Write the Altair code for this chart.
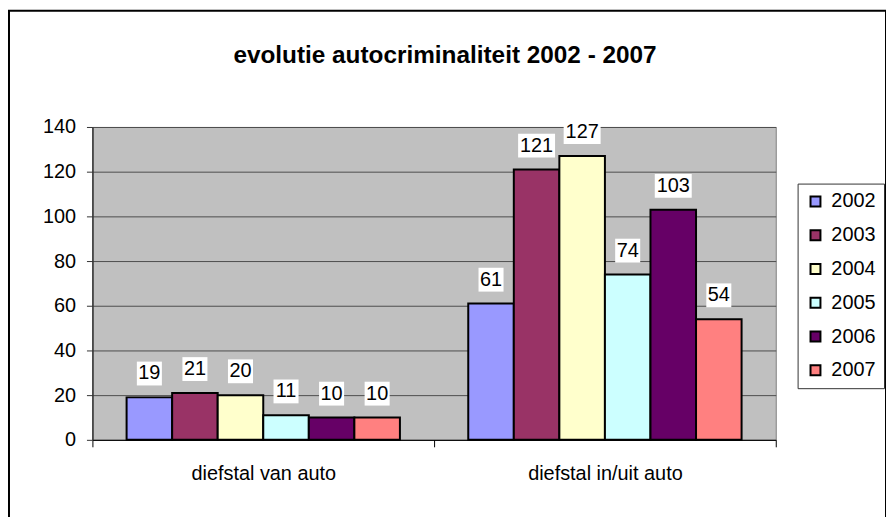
import altair as alt
import pandas as pd

categories = ["diefstal van auto", "diefstal in/uit auto"]
years = ["2002", "2003", "2004", "2005", "2006", "2007"]
van_auto = [19, 21, 20, 11, 10, 10]
in_uit_auto = [61, 121, 127, 74, 103, 54]
colors = ["#9999FF", "#993366", "#FFFFCC", "#CCFFFF", "#660066", "#FF8080"]
y_ticks = [0, 20, 40, 60, 80, 100, 120, 140]
title_text = "evolutie autocriminaliteit 2002 - 2007"

rows = []
for cat, vals in zip(categories, [van_auto, in_uit_auto]):
    for yr, v in zip(years, vals):
        rows.append({"category": cat, "year": yr, "value": v})
df = pd.DataFrame(rows)

FONT = "Liberation Sans"
FS = 20
W, H = 688, 315
PL, PT, PR, PB = 85, 118, 111, 90

x_enc = alt.X(
    "category:N",
    sort=categories,
    title=None,
    scale=alt.Scale(paddingInner=0, paddingOuter=0),
    axis=alt.Axis(
        tickBand="extent",
        labelAngle=0,
        labelFont=FONT,
        labelFontSize=FS,
        labelColor="black",
        labelPadding=17,
        tickSize=7,
        tickColor="black",
        domainColor="black",
        domainWidth=1,
        grid=False,
    ),
)
xo_enc = alt.XOffset(
    "year:N", sort=years, scale=alt.Scale(paddingInner=0, paddingOuter=0.75)
)
y_enc = alt.Y(
    "value:Q",
    title=None,
    scale=alt.Scale(domain=[0, 140], nice=False),
    axis=alt.Axis(
        values=y_ticks,
        labelFont=FONT,
        labelFontSize=FS,
        labelColor="black",
        labelPadding=11,
        tickSize=6,
        tickColor="#333333",
        domainColor="#333333",
        domainWidth=1.5,
        grid=True,
        gridColor="#4d4d4d",
        gridWidth=1,
    ),
)

base = alt.Chart(df)

bars = base.mark_bar(stroke="black", strokeWidth=2).encode(
    x=x_enc,
    xOffset=xo_enc,
    y=y_enc,
    color=alt.Color(
        "year:N",
        sort=years,
        scale=alt.Scale(domain=years, range=colors),
        legend=alt.Legend(
            title=None,
            orient="none",
            legendX=710,
            legendY=57,
            labelFont=FONT,
            labelFontSize=FS,
            labelColor="black",
            labelOffset=6,
            symbolType="square",
            symbolSize=100,
            symbolStrokeColor="black",
            symbolStrokeWidth=2,
            rowPadding=14,
            padding=8,
            strokeColor="#333333",
            fillColor="white",
        ),
    ),
)

path2 = "M-2.1,-2L2.1,-2L2.1,2L-2.1,2Z"
path3 = "M-3.1,-2L3.1,-2L3.1,2L-3.1,2Z"

boxes = base.transform_calculate(
    digits="toString(length(toString(datum.value)))"
).mark_point(filled=True, color="white", opacity=1, strokeWidth=0, yOffset=-24, size=144).encode(
    x=x_enc,
    xOffset=xo_enc,
    y=y_enc,
    shape=alt.Shape(
        "digits:N",
        scale=alt.Scale(domain=["2", "3"], range=[path2, path3]),
        legend=None,
    ),
)

labels = base.mark_text(
    font=FONT, fontSize=FS, color="black", baseline="middle", align="center", dy=-24
).encode(x=x_enc, xOffset=xo_enc, y=y_enc, text="value:Q")

one = pd.DataFrame({"a": [0]})
title = alt.Chart(one).mark_text(
    text=title_text, font=FONT, fontSize=24.5, fontWeight="bold", color="black",
    align="center", baseline="middle",
).encode(x=alt.value(355), y=alt.value(-71))

border = alt.Chart(one).mark_rect(filled=False, stroke="black", strokeWidth=2).encode(
    x=alt.value(-PL + 1),
    x2=alt.value(W + PR),
    y=alt.value(-PT + 1),
    y2=alt.value(H + PB - 1),
)

chart = (
    alt.layer(bars, boxes, labels, title, border)
    .properties(
        width=W,
        height=H,
        padding={"left": PL, "top": PT, "right": PR, "bottom": PB},
        autosize=alt.AutoSizeParams(type="none"),
        background="white",
    )
    .configure_view(fill="#C0C0C0", stroke="#808080", strokeWidth=1)
)

chart.save("out.html", embed_options={"renderer": "svg", "actions": False})
